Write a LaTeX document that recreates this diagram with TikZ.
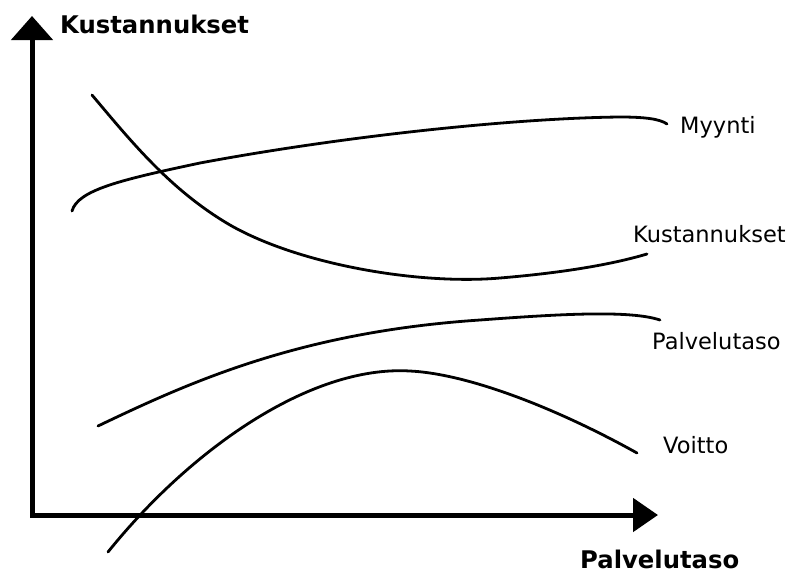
\documentclass[tikz,border=0pt]{standalone}
\usepackage{fontspec}
\setmainfont{DejaVu Sans}
\usepackage{tikz}
\usetikzlibrary{arrows.meta, positioning, calc}

\begin{document}
\begin{tikzpicture}[x=1pt, y=-1pt,
  curve/.style={line width=2.8pt, line cap=round},
  axislabel/.style={font=\fontsize{24.3}{29}\selectfont\bfseries, anchor=base west, inner sep=0pt},
  curvelabel/.style={font=\fontsize{22.5}{27}\selectfont, anchor=base west, inner sep=0pt}]
  \useasboundingbox (0,0) rectangle (793,574);

  % Axes
  \coordinate (O) at (32,515);
  \coordinate (Ytip) at (32,16);
  \coordinate (Xtip) at (658,515);
  \draw[line width=5pt, {Triangle[length=24pt,width=41pt]}-{Triangle[length=25pt,width=33pt]}]
    (Ytip) -- (O) -- (Xtip);

  % Axis labels
  \node[axislabel] (ylab) at (60,33) {Kustannukset};
  \node[axislabel] (xlab) at (580,568) {Palvelutaso};

  % Myynti
  \draw[curve] (72,211) .. controls (78,190) and (120,180) .. (200,163)
    .. controls (350,135) and (520,118) .. (620,117)
    .. controls (645,117) and (660,119) .. (667,124);
  % Kustannukset
  \draw[curve] (92,95) .. controls (130,140) and (170,190) .. (230,225)
    .. controls (300,265) and (420,285) .. (500,278)
    .. controls (560,273) and (610,265) .. (647,254);
  % Palvelutaso
  \draw[curve] (98,426) .. controls (190,382) and (300,332) .. (480,320)
    .. controls (560,314) and (630,310) .. (660,320);
  % Voitto
  \draw[curve] (108,552) .. controls (190,450) and (310,365) .. (410,371)
    .. controls (470,374) and (560,410) .. (637,453);

  % Curve labels
  \node[curvelabel] (myynti) at (680,133) {Myynti};
  \node[curvelabel] (kust) at (633,242) {Kustannukset};
  \node[curvelabel] (palv) at (652,349) {Palvelutaso};
  \node[curvelabel] (voitto) at (663,453) {Voitto};
\end{tikzpicture}
\end{document}
